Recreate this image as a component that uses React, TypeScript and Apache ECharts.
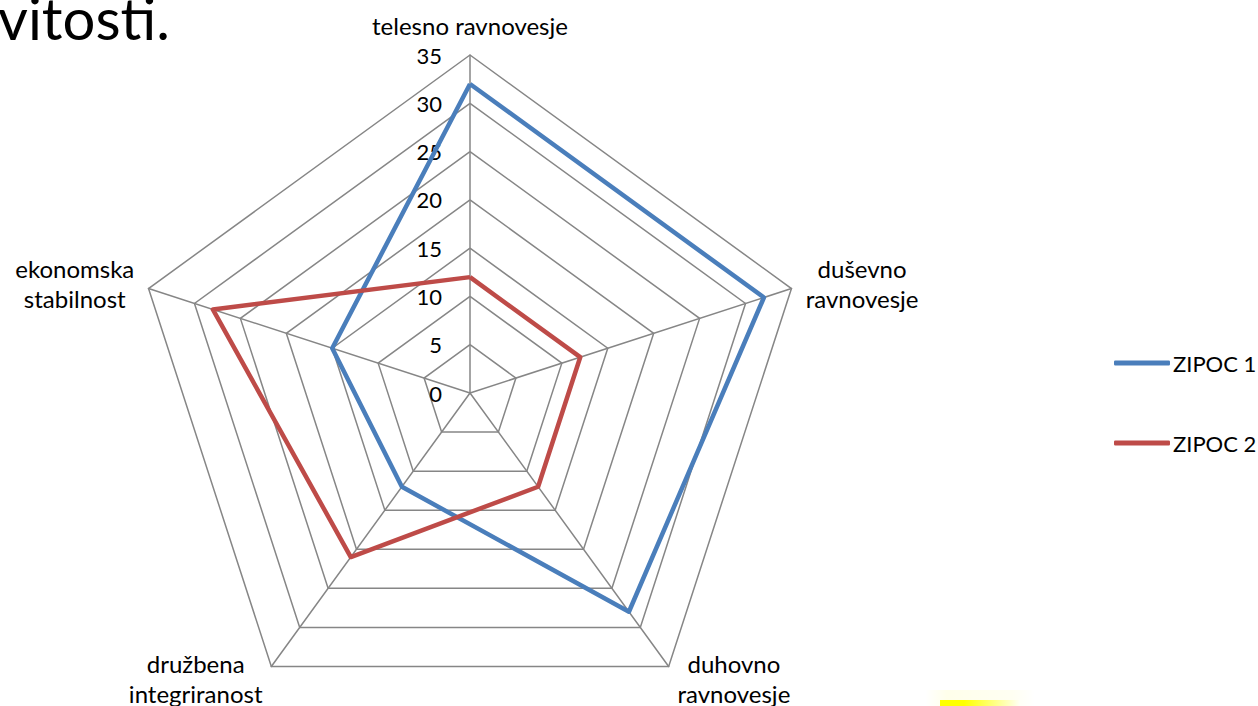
import React, { useEffect, useRef } from "react";
import * as echarts from "echarts";

const indicators = [
  "telesno ravnovesje",
  "ekonomska\nstabilnost",
  "družbena\nintegriranost",
  "duhovno\nravnovesje",
  "duševno\nravnovesje",
];
const maxValue = 35;
const zipoc1 = [32, 15, 12, 28, 32];
const zipoc2 = [12, 28, 21, 12, 12];
const seriesNames = ["ZIPOC 1", "ZIPOC 2"];
const titleText = "vitosti.";

const FONT = "Lato, 'Open Sans', sans-serif";

export default function App() {
  const ref = useRef<HTMLDivElement>(null);
  useEffect(() => {
    if (!ref.current) return;
    const chart = echarts.init(ref.current, undefined, { renderer: "svg" });
    const gridColor = "#868686";
    chart.setOption({
      animation: false,
      backgroundColor: "#ffffff",
      textStyle: { fontFamily: FONT },
      legend: {
        orient: "vertical",
        left: 1109,
        top: 346,
        itemGap: 56,
        itemWidth: 56,
        itemHeight: 5,
        icon: "roundRect",
        data: seriesNames,
        textStyle: { fontFamily: FONT, fontSize: 22, color: "#000", lineHeight: 24, padding: [0, 0, 0, -2] },
      },
      radar: {
        center: [470, 393],
        radius: 338,
        startAngle: 90,
        shape: "polygon",
        splitNumber: 7,
        nameGap: 15,
        indicator: indicators.map((n, i) => ({
          name: n,
          min: 0,
          max: maxValue,
          axisLabel:
            i === 0
              ? { show: true, margin: 28, fontSize: 22, color: "#000", fontFamily: FONT }
              : { show: false },
        })),
        axisName: {
          formatter: (name: string) =>
            name
              .split("\n")
              .map((l) => `{c|${l}}`)
              .join("\n"),
          rich: {
            c: {
              align: "center",
              fontSize: 24,
              lineHeight: 30,
              color: "#000",
              fontFamily: FONT,
            },
          },
        },
        axisLine: { lineStyle: { color: gridColor, width: 1.5 } },
        splitLine: { lineStyle: { color: gridColor, width: 1.5 } },
        splitArea: { show: false },
        axisLabel: { show: false },
        axisTick: { show: false },
      },
      series: [
        {
          type: "radar",
          symbol: "none",
          data: [
            {
              name: seriesNames[0],
              value: zipoc1,
              lineStyle: { color: "#4a7ebb", width: 4.5 },
              itemStyle: { color: "#4a7ebb" },
            },
            {
              name: seriesNames[1],
              value: zipoc2,
              lineStyle: { color: "#be4b48", width: 4.5 },
              itemStyle: { color: "#be4b48" },
            },
          ],
        },
      ],
      graphic: [
        {
          type: "text",
          left: -2,
          top: -12,
          style: { text: titleText, font: `58px ${FONT}`, fill: "#000" },
        },
        {
          type: "rect",
          shape: { x: 925, y: 690, width: 110, height: 16 },
          style: {
            fill: {
              type: "linear",
              x: 0, y: 0, x2: 1, y2: 0,
              colorStops: [
                { offset: 0, color: "rgba(255,255,0,0)" },
                { offset: 0.2, color: "rgba(255,255,0,0.08)" },
                { offset: 0.8, color: "rgba(255,255,0,0.05)" },
                { offset: 1, color: "rgba(255,255,0,0)" },
              ],
            },
          },
        },
        {
          type: "rect",
          shape: { x: 940, y: 700, width: 80, height: 6 },
          style: {
            fill: {
              type: "linear",
              x: 0, y: 0, x2: 1, y2: 0,
              colorStops: [
                { offset: 0, color: "rgba(255,255,0,1)" },
                { offset: 0.3, color: "rgba(255,255,0,1)" },
                { offset: 1, color: "rgba(255,255,0,0)" },
              ],
            },
          },
        },
      ],
    });
    return () => chart.dispose();
  }, []);
  return (
    <div
      ref={ref}
      style={{ position: "absolute", left: 0, top: 0, width: 1258, height: 706 }}
    />
  );
}
